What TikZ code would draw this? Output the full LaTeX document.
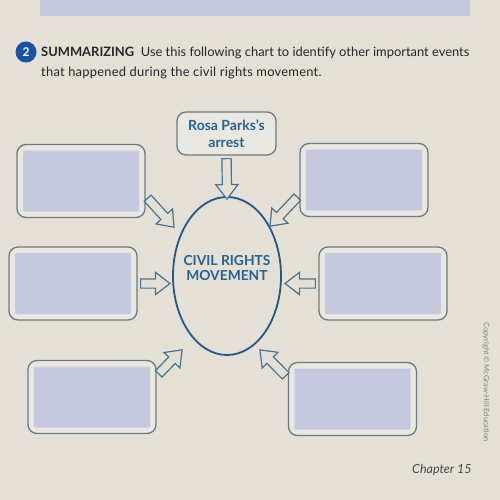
\documentclass[tikz,border=0pt]{standalone}
\usepackage{fontspec}
\setmainfont{Lato}
\usetikzlibrary{shapes.geometric,shapes.arrows,calc}

\definecolor{paper}{RGB}{228,224,214}
\definecolor{lavender}{RGB}{198,201,221}
\definecolor{frameline}{RGB}{112,120,124}
\definecolor{framefill}{RGB}{232,231,226}
\definecolor{inkblue}{RGB}{38,98,148}
\definecolor{ringblue}{RGB}{36,86,136}
\definecolor{arrowline}{RGB}{72,116,146}
\definecolor{badge}{RGB}{24,84,164}
\definecolor{darktext}{RGB}{38,38,40}

\tikzset{
	answerbox/.style={draw=frameline, line width=1.3pt, fill=framefill, rounded corners=9pt,
		minimum width=128pt, minimum height=73pt,
		path picture={\fill[lavender, rounded corners=1pt]
			([shift={(6pt,-6pt)}]path picture bounding box.north west) rectangle
			([shift={(-6pt,6pt)}]path picture bounding box.south east);}},
	hollowarrow/.style={single arrow, draw=arrowline, fill=paper, line width=1.2pt,
		inner xsep=0pt, inner ysep=4pt, single arrow head extend=6.5pt,
		single arrow tip angle=75, sloped, allow upside down},
	heading/.style={anchor=base west, inner sep=0pt, text=darktext},
}

\newcommand{\blockarrow}[2]{\path let \p1=($(#2)-(#1)$), \n1={veclen(\x1,\y1)} in
	(#1) -- node[hollowarrow, minimum height=\n1]{} (#2);}

\begin{document}
\begin{tikzpicture}[x=1pt, y=-1pt]

			% Page
			\fill[paper] (0,0) rectangle (500,500);
			\useasboundingbox (0,0) rectangle (500,500);
			\fill[lavender] (40,0) rectangle (470,16);

			% Heading
			\node[circle, fill=badge, minimum size=21pt, inner sep=0pt, text=white,
				font=\fontsize{12}{12}\selectfont\bfseries] (num) at (26,52) {2};
			\node[heading, font=\fontsize{12.9}{12.9}\selectfont] (title1) at (41,56.7)
				{\textbf{SUMMARIZING}\ \ Use this following chart to identify other important events};
			\node[heading, font=\fontsize{12.9}{12.9}\selectfont\addfontfeatures{LetterSpace=1.9}]
				(title2) at (41,76.7) {that happened during the civil rights movement.};

			% Center
			\node[draw=frameline, line width=1.3pt, fill=framefill, rounded corners=9pt,
				minimum width=99pt, minimum height=43pt, text=inkblue, align=center,
				font=\fontsize{14}{16.7}\selectfont\bfseries] (rosa) at (226.5,133.5) {Rosa Parks's\\arrest};
			\node[draw=ringblue, line width=1.8pt, ellipse, minimum width=108pt,
				minimum height=158pt, inner sep=0pt] (civil) at (227,276) {};
			\node[text=inkblue, align=center, font=\fontsize{13.8}{15.7}\selectfont\bfseries]
				(civiltext) at (227,268) {CIVIL RIGHTS\\MOVEMENT};

			% Answer boxes
			\node[answerbox] (tl) at (81,181) {};
			\node[answerbox] (tr) at (364,180) {};
			\node[answerbox] (ml) at (73,283.5) {};
			\node[answerbox] (mr) at (383,283.5) {};
			\node[answerbox] (bl) at (92,397) {};
			\node[answerbox] (br) at (352.5,399) {};

			% Arrow tips
			\coordinate (tipTL) at (172,225);
			\coordinate (tipTR) at (272,224);
			\coordinate (tipML) at (167,283.5);
			\coordinate (tipMR) at (288,283.5);
			\coordinate (tipBL) at (180,352);
			\coordinate (tipBR) at (262,352);

			% Arrows
			\blockarrow{rosa.south}{civil.north}
			\blockarrow{tl.-13}{tipTL}
			\blockarrow{tr.193}{tipTR}
			\blockarrow{ml.east}{tipML}
			\blockarrow{mr.west}{tipMR}
			\blockarrow{bl.18}{tipBL}
			\blockarrow{br.162}{tipBR}

			% Footer
			\node[rotate=-90, text=black!50, font=\fontsize{7.5}{7.5}\selectfont] (copy) at (486,382)
				{Copyright © McGraw-Hill Education};
			\node[anchor=base west, inner sep=0pt, text=black!72,
				font=\fontsize{12.5}{12.5}\selectfont\itshape] (chapter) at (412,473) {Chapter 15};

		\end{tikzpicture}
\end{document}
